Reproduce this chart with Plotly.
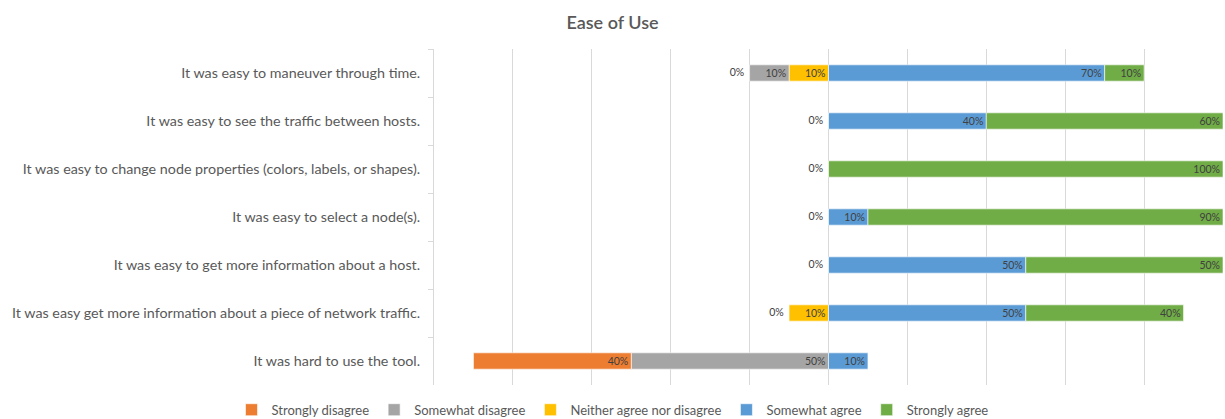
import plotly.graph_objects as go

categories = [
    "It was easy to maneuver through time.",
    "It was easy to see the traffic between hosts.",
    "It was easy to change node properties (colors, labels, or shapes).",
    "It was easy to select a node(s).",
    "It was easy to get more information about a host.",
    "It was easy get more information about a piece of network traffic.",
    "It was hard to use the tool.",
]
strongly_disagree = [0, 0, 0, 0, 0, 0, 40]
somewhat_disagree = [10, None, None, None, None, None, 50]
neither = [10, None, None, None, None, 10, None]
somewhat_agree = [70, 40, None, 10, 50, 50, 10]
strongly_agree = [10, 60, 100, 90, 50, 40, None]

series_names = ["Strongly disagree", "Somewhat disagree", "Neither agree nor disagree",
                "Somewhat agree", "Strongly agree"]
colors = ["#ED7D31", "#A5A5A5", "#FFC000", "#5B9BD5", "#70AD47"]

FONT = "Lato"
LABEL_COLOR = "#404040"


def frac(v, sign=1):
    return [None if x is None else sign * x / 100 for x in v]


def labels(v):
    return [None if (x is None or x == 0) else f"{x}%" for x in v]


fig = go.Figure()

# negative side: trace order from zero outward
neg = [(2, neither), (1, somewhat_disagree), (0, strongly_disagree)]
for idx, vals in neg:
    fig.add_trace(go.Bar(
        y=categories, x=frac(vals, -1), orientation="h",
        name=series_names[idx], marker=dict(color=colors[idx], line=dict(color="white", width=0.6)),
        text=labels(vals), textposition="inside", insidetextanchor="start",
        constraintext="none",
        textfont=dict(family=FONT, size=10.5, color=LABEL_COLOR),
        legendrank=idx + 1, hoverinfo="skip",
    ))

pos = [(3, somewhat_agree), (4, strongly_agree)]
for idx, vals in pos:
    fig.add_trace(go.Bar(
        y=categories, x=frac(vals, 1), orientation="h",
        name=series_names[idx], marker=dict(color=colors[idx], line=dict(color="white", width=0.6)),
        text=labels(vals), textposition="inside", insidetextanchor="end",
        constraintext="none",
        textfont=dict(family=FONT, size=10.5, color=LABEL_COLOR),
        legendrank=idx + 1, hoverinfo="skip",
    ))

# "0%" labels for zero-valued strongly-disagree segments
zx, zy, zt = [], [], []
for i, c in enumerate(categories):
    if strongly_disagree[i] == 0:
        offset = (neither[i] or 0) + (somewhat_disagree[i] or 0)
        zx.append(-offset / 100)
        zy.append(c)
        zt.append("0%  ")
fig.add_trace(go.Scatter(
    x=zx, y=zy, mode="text", text=zt, textposition="middle left",
    textfont=dict(family=FONT, size=10.5, color=LABEL_COLOR),
    showlegend=False, hoverinfo="skip",
))

fig.update_layout(
    barmode="relative",
    bargap=0.66,
    uniformtext=dict(mode=False),
    width=1225, height=419,
    margin=dict(l=434, r=2, t=49, b=34),
    paper_bgcolor="white", plot_bgcolor="white",
    title=dict(text="Ease of Use", x=0.5, xref="container", xanchor="center",
               y=0.945, yref="container", yanchor="middle",
               font=dict(family=FONT, size=18, color="#595959", weight=600)),
    legend=dict(orientation="h", xref="container", x=0.5, xanchor="center",
                yref="container", y=0.022, yanchor="middle",
                font=dict(family=FONT, size=13, color="#595959"),
                traceorder="normal", itemwidth=30),
    xaxis=dict(range=[-1, 1], dtick=0.2, tick0=0, showticklabels=False,
               showgrid=True, gridcolor="#D9D9D9", gridwidth=1,
               zeroline=True, zerolinecolor="#D9D9D9", zerolinewidth=1,
               fixedrange=True),
    yaxis=dict(autorange="reversed", showline=True, linecolor="#D9D9D9",
               ticks="outside", tickson="boundaries", ticklen=5, tickcolor="#D9D9D9",
               ticklabelstandoff=10,
               tickfont=dict(family=FONT, size=14.3, color="#595959"),
               showgrid=False, fixedrange=True),
    showlegend=True,
)

fig.write_html("out.html")
